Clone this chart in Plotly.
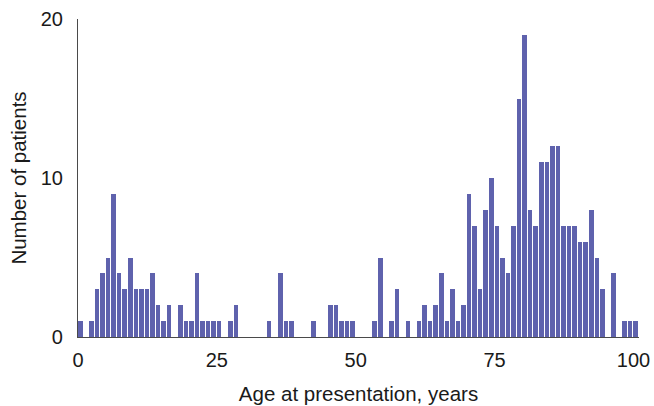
import plotly.graph_objects as go

ages = list(range(0, 101))
counts = [
    1, 0, 1, 3, 4, 5, 9, 4, 3, 5,      # 0-9
    3, 3, 3, 4, 2, 1, 2, 0, 2, 1,      # 10-19
    1, 4, 1, 1, 1, 1, 0, 1, 2, 0,      # 20-29
    0, 0, 0, 0, 1, 0, 4, 1, 1, 0,      # 30-39
    0, 0, 1, 0, 0, 2, 2, 1, 1, 1,      # 40-49
    0, 0, 0, 1, 5, 0, 1, 3, 0, 1,      # 50-59
    0, 1, 2, 1, 2, 4, 1, 3, 1, 2,      # 60-69
    9, 7, 3, 8, 10, 7, 5, 4, 7, 15,    # 70-79
    19, 8, 7, 11, 11, 12, 12, 7, 7, 7, # 80-89
    6, 6, 8, 5, 3, 0, 4, 0, 1, 1,      # 90-99
    1,                                 # 100
]
x_ticks = [0, 25, 50, 75, 100]
y_ticks = [0, 10, 20]

fig = go.Figure()
fig.add_trace(go.Bar(
    x=ages, y=counts,
    width=0.82, offset=0.0,
    marker=dict(color="#5f62ad", line=dict(width=0)),
    hoverinfo="x+y",
))

font_family = "Liberation Sans, Arial, Helvetica, sans-serif"
fig.update_layout(
    width=654, height=406,
    margin=dict(l=78, r=15, t=19, b=69),
    paper_bgcolor="white", plot_bgcolor="white",
    showlegend=False,
    font=dict(family=font_family, size=20, color="#1a1a1a"),
    bargap=0,
)
fig.update_xaxes(
    range=[0, 101], tickvals=x_ticks, ticktext=[str(t) for t in x_ticks],
    showline=True, linecolor="#4a4a4a", linewidth=1.2,
    showgrid=False, zeroline=False, ticks="",
    automargin=False,
    ticklabelstandoff=5,
    title=dict(text="Age at presentation, years", font=dict(size=20.5), standoff=16),
)
fig.update_yaxes(
    range=[0, 20], tickvals=y_ticks, ticktext=[str(t) for t in y_ticks],
    showline=True, linecolor="#4a4a4a", linewidth=1.2,
    showgrid=False, zeroline=False, ticks="",
    automargin=False,
    ticklabelstandoff=10,
    title=dict(text="Number of patients", font=dict(size=20.5), standoff=8),
)

fig.write_html(
    "out.html",
    config={"displayModeBar": False},
    post_script="document.body.style.margin='0';document.body.style.overflow='hidden';",
)
